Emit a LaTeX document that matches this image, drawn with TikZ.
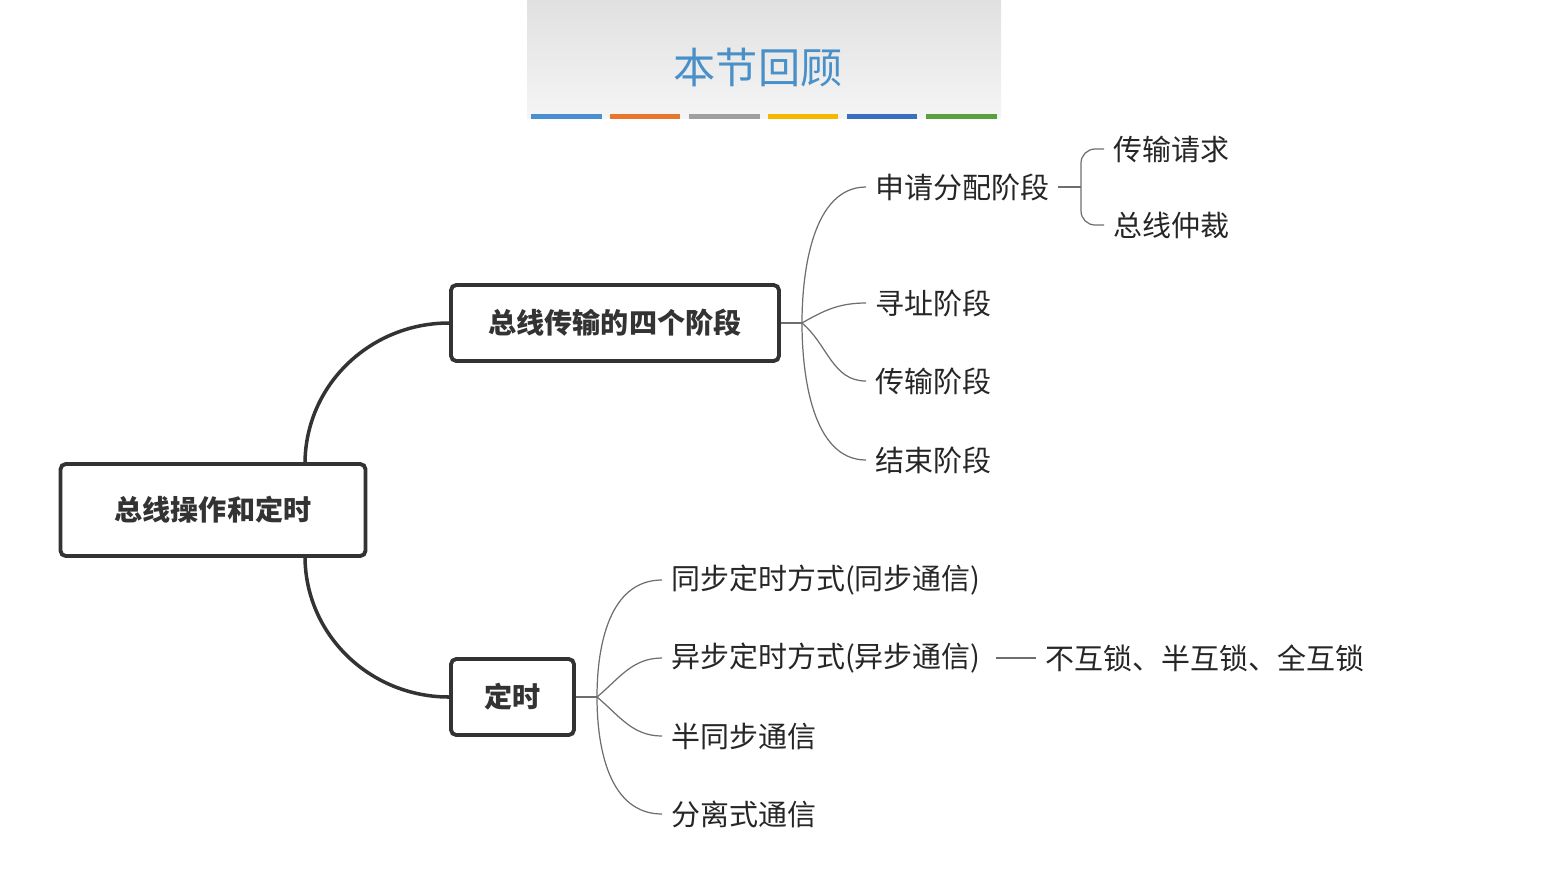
\documentclass[tikz,border=0pt]{standalone}
\usepackage{fontspec}
\setmainfont{Noto Sans CJK SC}
\usetikzlibrary{positioning}
\definecolor{titleblue}{HTML}{4A90C8}
\definecolor{linegray}{HTML}{6E6E6E}
\definecolor{cA}{HTML}{4A8FD0}\definecolor{cB}{HTML}{E8762D}\definecolor{cC}{HTML}{A0A0A0}
\definecolor{cD}{HTML}{F5B800}\definecolor{cE}{HTML}{3A6FC0}\definecolor{cF}{HTML}{5AA03C}
\tikzset{
  box/.style={draw=black!80, line width=2.2pt, rounded corners=3pt, font=\fontsize{16}{19}\selectfont\bfseries, text=black!80, inner sep=0pt},
  leaf/.style={anchor=west, inner xsep=5pt, inner ysep=1pt, font=\fontsize{16.5}{19}\selectfont, text=black!85},
  trunk/.style={draw=black!80, line width=2pt},
  twig/.style={draw=linegray, line width=0.7pt}
}
\begin{document}
\begin{tikzpicture}[x=0.02cm, y=-0.02cm]
\useasboundingbox (0,0) rectangle (1541,870);
% banner
\shade[top color=black!12, bottom color=black!4] (527,0) rectangle (1001,118);
\node[text=titleblue, font=\fontsize{24}{27}\selectfont] (title) at (758,68) {本节回顾};
\fill[cA] (531,114) rectangle (602,119);
\fill[cB] (610,114) rectangle (680,119);
\fill[cC] (689,114) rectangle (760,119);
\fill[cD] (768,114) rectangle (838,119);
\fill[cE] (847,114) rectangle (917,119);
\fill[cF] (926,114) rectangle (997,119);
% boxes
\node[box, minimum width=305*0.02cm, minimum height=92*0.02cm] (root) at (213,510) {总线操作和定时};
\node[box, minimum width=328*0.02cm, minimum height=76*0.02cm] (stage) at (615,323) {总线传输的四个阶段};
\node[box, minimum width=123*0.02cm, minimum height=76*0.02cm] (timing) at (512.5,697) {定时};
\draw[trunk] (305,464) to[out=90, in=180] (stage.west);
\draw[trunk] (305,556) to[out=-90, in=180] (timing.west);
% stages
\coordinate (js) at (802,323);
\node[leaf] (apply) at (866,187) {申请分配阶段};
\node[leaf] (addr) at (866,303) {寻址阶段};
\node[leaf] (trans) at (866,381) {传输阶段};
\node[leaf] (fin) at (866,460) {结束阶段};
\draw[twig] (stage.east) -- (js);
\draw[twig] (js) to[out=90, in=180, looseness=0.9] (apply.west);
\draw[twig] (js) to[out=30, in=180] (addr.west);
\draw[twig] (js) to[out=-40, in=180] (trans.west);
\draw[twig] (js) to[out=-90, in=180, looseness=0.9] (fin.west);
% request phase
\coordinate (jr) at (1081,187);
\node[leaf] (req) at (1104,149) {传输请求};
\node[leaf] (arb) at (1104,225) {总线仲裁};
\draw[twig] (apply.east) -- (jr);
\draw[twig, rounded corners=8pt] (req.west) -| (jr) |- (arb.west);
% timing
\coordinate (jt) at (597,697);
\node[leaf] (sync) at (662,580) {同步定时方式(同步通信)};
\node[leaf] (async) at (662,658) {异步定时方式(异步通信)};
\node[leaf] (semi) at (662,736) {半同步通信};
\node[leaf] (split) at (662,814) {分离式通信};
\draw[twig] (timing.east) -- (jt);
\draw[twig] (jt) to[out=90, in=180] (sync.west);
\draw[twig] (jt) to[out=40, in=180] (async.west);
\draw[twig] (jt) to[out=-40, in=180] (semi.west);
\draw[twig] (jt) to[out=-90, in=180] (split.west);
\node[leaf] (lock) at (1036,658) {不互锁、半互锁、全互锁};
\draw[twig] ([xshift=6*0.02cm]async.east) -- (lock.west);
\end{tikzpicture}
\end{document}
